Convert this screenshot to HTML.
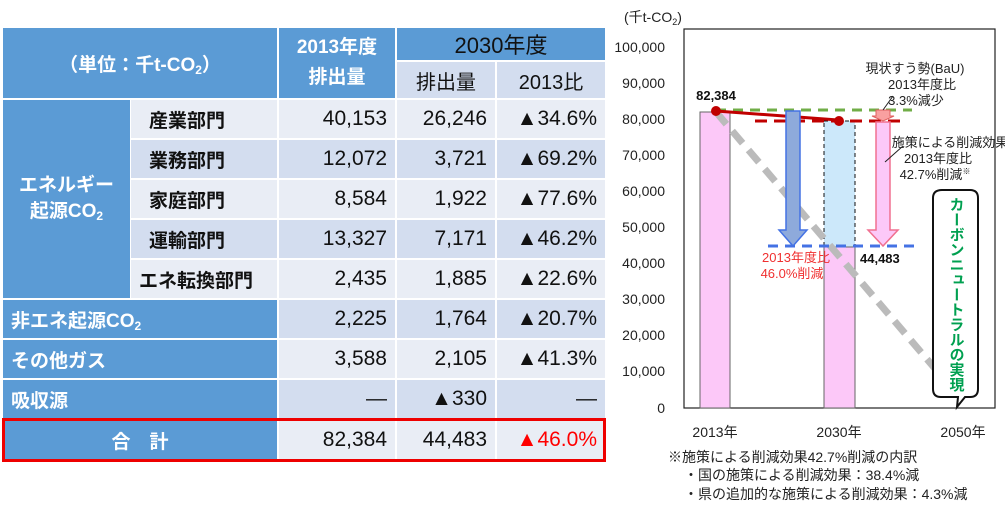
<!DOCTYPE html>
<html><head><meta charset="utf-8">
<style>
body{margin:0;width:1005px;height:509px;background:#fff;position:relative;overflow:hidden;font-family:"Liberation Sans","Noto Sans CJK JP",sans-serif}
.c{position:absolute;box-sizing:border-box;display:flex;align-items:center;font-size:21px;color:#111}
.h{background:#5b9bd5;color:#fff;font-weight:bold;font-size:19px}
.l1{background:#e9edf5}.l2{background:#d3ddef}
.n{justify-content:flex-end;padding-right:8px}
.ctr{justify-content:center;text-align:center}
.b{font-weight:bold;font-size:19px}
sub{font-size:12px;vertical-align:-3px;line-height:0}
</style></head><body>
<div class="c h ctr" style="left:3px;top:28px;width:274px;height:70px"><span>（単位：千t-CO<sub>2</sub>）</span></div>
<div class="c h ctr" style="left:279px;top:28px;width:116px;height:70px;line-height:30px"><span>2013年度<br>排出量</span></div>
<div class="c ctr" style="left:397px;top:28px;width:208px;height:32px;background:#5b9bd5;font-size:22px">2030年度</div>
<div class="c l2 ctr" style="left:397px;top:62px;width:98px;height:36px;font-size:20px">排出量</div>
<div class="c l2 ctr" style="left:497px;top:62px;width:108px;height:36px;font-size:20px">2013比</div>

<div class="c h ctr" style="left:3px;top:100px;width:127px;height:198px;line-height:26px"><span>エネルギー<br>起源CO<sub>2</sub></span></div>

<div class="c l1 b" style="left:131px;top:100px;width:146px;height:38px;padding-left:18px">産業部門</div>
<div class="c l1 n" style="left:279px;top:100px;width:116px;height:38px">40,153</div>
<div class="c l1 n" style="left:397px;top:100px;width:98px;height:38px">26,246</div>
<div class="c l1 n" style="left:497px;top:100px;width:108px;height:38px">▲34.6%</div>

<div class="c l2 b" style="left:131px;top:140px;width:146px;height:38px;padding-left:18px">業務部門</div>
<div class="c l2 n" style="left:279px;top:140px;width:116px;height:38px">12,072</div>
<div class="c l2 n" style="left:397px;top:140px;width:98px;height:38px">3,721</div>
<div class="c l2 n" style="left:497px;top:140px;width:108px;height:38px">▲69.2%</div>

<div class="c l1 b" style="left:131px;top:180px;width:146px;height:38px;padding-left:18px">家庭部門</div>
<div class="c l1 n" style="left:279px;top:180px;width:116px;height:38px">8,584</div>
<div class="c l1 n" style="left:397px;top:180px;width:98px;height:38px">1,922</div>
<div class="c l1 n" style="left:497px;top:180px;width:108px;height:38px">▲77.6%</div>

<div class="c l2 b" style="left:131px;top:220px;width:146px;height:38px;padding-left:18px">運輸部門</div>
<div class="c l2 n" style="left:279px;top:220px;width:116px;height:38px">13,327</div>
<div class="c l2 n" style="left:397px;top:220px;width:98px;height:38px">7,171</div>
<div class="c l2 n" style="left:497px;top:220px;width:108px;height:38px">▲46.2%</div>

<div class="c l1 b" style="left:131px;top:260px;width:146px;height:38px;padding-left:8px">エネ転換部門</div>
<div class="c l1 n" style="left:279px;top:260px;width:116px;height:38px">2,435</div>
<div class="c l1 n" style="left:397px;top:260px;width:98px;height:38px">1,885</div>
<div class="c l1 n" style="left:497px;top:260px;width:108px;height:38px">▲22.6%</div>

<div class="c h" style="left:3px;top:300px;width:274px;height:38px;padding-left:8px"><span>非エネ起源CO<sub>2</sub></span></div>
<div class="c l2 n" style="left:279px;top:300px;width:116px;height:38px">2,225</div>
<div class="c l2 n" style="left:397px;top:300px;width:98px;height:38px">1,764</div>
<div class="c l2 n" style="left:497px;top:300px;width:108px;height:38px">▲20.7%</div>

<div class="c h" style="left:3px;top:340px;width:274px;height:38px;padding-left:8px">その他ガス</div>
<div class="c l1 n" style="left:279px;top:340px;width:116px;height:38px">3,588</div>
<div class="c l1 n" style="left:397px;top:340px;width:98px;height:38px">2,105</div>
<div class="c l1 n" style="left:497px;top:340px;width:108px;height:38px">▲41.3%</div>

<div class="c h" style="left:3px;top:380px;width:274px;height:38px;padding-left:8px">吸収源</div>
<div class="c l2 n" style="left:279px;top:380px;width:116px;height:38px">―</div>
<div class="c l2 n" style="left:397px;top:380px;width:98px;height:38px">▲330</div>
<div class="c l2 n" style="left:497px;top:380px;width:108px;height:38px">―</div>

<div class="c h ctr" style="left:3px;top:420px;width:274px;height:40px">合　計</div>
<div class="c l1 n" style="left:279px;top:420px;width:116px;height:40px">82,384</div>
<div class="c l1 n" style="left:397px;top:420px;width:98px;height:40px">44,483</div>
<div class="c l1 n" style="left:497px;top:420px;width:108px;height:40px;color:#f00">▲46.0%</div>
<div style="position:absolute;left:2px;top:418px;width:604px;height:44px;box-sizing:border-box;border:3px solid #e00"></div>

<svg style="position:absolute;left:0;top:0" width="1005" height="509" font-family="Liberation Sans, Noto Sans CJK JP, sans-serif">
<text x="624" y="22" font-size="14" fill="#222">(千t-CO<tspan font-size="9" dy="3">2</tspan><tspan dy="-3">)</tspan></text>
<g font-size="14" fill="#222" text-anchor="end">
<text x="665" y="52">100,000</text><text x="665" y="88">90,000</text><text x="665" y="124">80,000</text>
<text x="665" y="160">70,000</text><text x="665" y="196">60,000</text><text x="665" y="232">50,000</text>
<text x="665" y="268">40,000</text><text x="665" y="304">30,000</text><text x="665" y="340">20,000</text>
<text x="665" y="376">10,000</text><text x="665" y="413">0</text></g>
<rect x="684" y="29" width="311" height="379" fill="none" stroke="#222" stroke-width="1.2"/>
<rect x="700" y="112" width="30" height="296" fill="#fcc8f8" stroke="#666"/>
<rect x="824" y="121" width="31" height="126" fill="#cce8fa" stroke="#111" stroke-dasharray="4,3"/>
<rect x="824" y="247" width="31" height="161" fill="#fcc8f8" stroke="#666"/>
<line x1="716" y1="112" x2="955" y2="392" stroke="#bbb" stroke-width="7" stroke-dasharray="16,9"/>
<line x1="716" y1="110" x2="912" y2="110" stroke="#70ad47" stroke-width="3" stroke-dasharray="10,7"/>
<line x1="755" y1="121" x2="902" y2="121" stroke="#c00000" stroke-width="3" stroke-dasharray="12,7"/>
<line x1="768" y1="246" x2="915" y2="246" stroke="#4472e4" stroke-width="3" stroke-dasharray="10,7"/>
<line x1="716" y1="111" x2="838" y2="120" stroke="#c00000" stroke-width="3"/>
<circle cx="716" cy="111" r="5" fill="#c00000"/><circle cx="839" cy="121" r="5" fill="#c00000"/>
<polygon points="786,111 800,111 800,230 807,230 793,246 779,230 786,230" fill="#8eaadb" stroke="#4472e4" stroke-width="1.5"/>
<polygon points="876,122 890,122 890,230 898,230 883,246 868,230 876,230" fill="#fcc8f8" stroke="#f07090" stroke-width="1.5"/>
<polygon points="876,110 890,110 890,116 894,116 883,121 872,116 876,116" fill="#f9a0a0" stroke="#e06060"/>
<line x1="883" y1="110" x2="893" y2="96" stroke="#222"/>
<line x1="885" y1="162" x2="903" y2="146" stroke="#222"/>
<text x="716" y="100" font-size="13" font-weight="bold" text-anchor="middle" fill="#111">82,384</text>
<text x="860" y="263" font-size="13" font-weight="bold" fill="#111">44,483</text>
<g font-size="13" fill="#222" text-anchor="middle">
<text x="915" y="73">現状すう勢(BaU)</text><text x="922" y="89">2013年度比</text><text x="916" y="105">3.3%減少</text>
<text x="950" y="147">施策による削減効果</text><text x="938" y="163">2013年度比</text><text x="935" y="179">42.7%削減<tspan font-size="8" dy="-5">※</tspan></text>
</g>
<g font-size="13" fill="#f03030" text-anchor="middle"><text x="796" y="262">2013年度比</text><text x="792" y="278">46.0%削減</text></g>
<path d="M942,190 H970 Q978,190 978,198 V389 Q978,397 970,397 H965 L957,407 L958,397 H941 Q933,397 933,389 V198 Q933,190 942,190 Z" fill="#fff" stroke="#111" stroke-width="2"/>
<text x="956" y="197" font-size="15" font-weight="bold" fill="#00a050" style="writing-mode:vertical-rl;text-orientation:upright">カーボンニュートラルの実現</text>
<g font-size="14" fill="#222" text-anchor="middle"><text x="715" y="437">2013年</text><text x="839" y="437">2030年</text><text x="963" y="437">2050年</text></g>
<g font-size="14" fill="#222"><text x="668" y="462">※施策による削減効果42.7%削減の内訳</text>
<text x="684" y="480">・国の施策による削減効果：38.4%減</text>
<text x="684" y="499">・県の追加的な施策による削減効果：4.3%減</text></g>
</svg>
</body></html>
